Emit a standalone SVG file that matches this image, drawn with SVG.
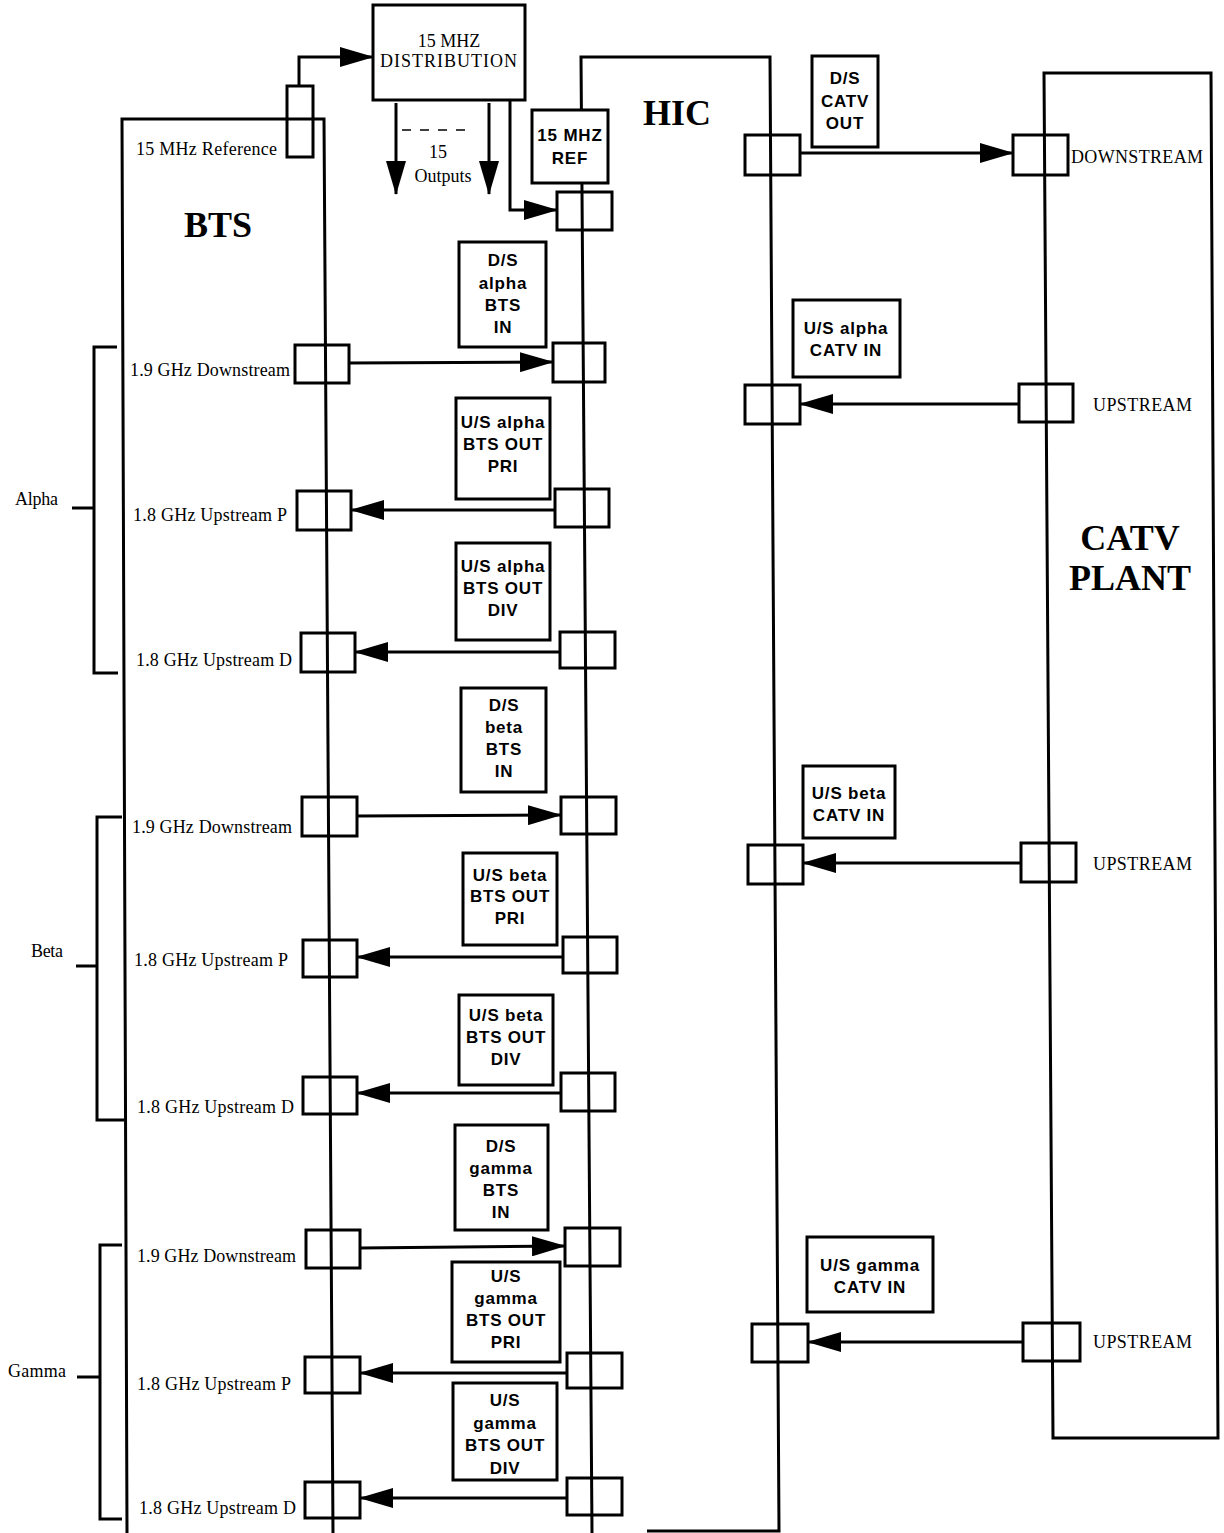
<svg xmlns="http://www.w3.org/2000/svg" width="1224" height="1533" viewBox="0 0 1224 1533">
<style>
.ln{stroke:#000;stroke-width:3;fill:none}
.port{stroke:#000;stroke-width:3;fill:none}
.lbl{stroke:#000;stroke-width:3;fill:#fff}
.bs{font-family:"Liberation Sans",Arial,sans-serif;font-weight:bold;font-size:17px;letter-spacing:0.8px;text-anchor:middle;fill:#000}
.sf{font-family:"Liberation Serif","Times New Roman",serif;font-size:18px;fill:#000}
.big{font-family:"Liberation Serif","Times New Roman",serif;font-weight:bold;font-size:36px;text-anchor:middle;fill:#000}
.arr{stroke:#000;stroke-width:3;fill:none;marker-end:url(#ah)}
.dash{stroke:#000;stroke-width:1.5;fill:none;stroke-dasharray:9,9}
</style>
<defs>
<marker id="ah" markerUnits="userSpaceOnUse" markerWidth="34" markerHeight="20" viewBox="0 0 34 20" refX="33" refY="10" orient="auto">
<path d="M0,0 L34,10 L0,20 Z" fill="#000"/>
</marker>
</defs>
<rect width="1224" height="1533" fill="#fff"/>

<g id="bts">
<path class="ln" d="M127,1533 L122,119 L324,119 L333,1533"/>
<text class="big" x="218" y="237">BTS</text>
<text class="sf" x="136" y="155" font-size="16" textLength="141" lengthAdjust="spacing">15 MHz Reference</text>
<text class="sf" x="130" y="376" textLength="160" lengthAdjust="spacing">1.9 GHz Downstream</text>
<text class="sf" x="133" y="521" textLength="154" lengthAdjust="spacing">1.8 GHz Upstream P</text>
<text class="sf" x="136" y="666" textLength="156" lengthAdjust="spacing">1.8 GHz Upstream D</text>
<text class="sf" x="132" y="833" textLength="160" lengthAdjust="spacing">1.9 GHz Downstream</text>
<text class="sf" x="134" y="966" textLength="154" lengthAdjust="spacing">1.8 GHz Upstream P</text>
<text class="sf" x="137" y="1113" textLength="157" lengthAdjust="spacing">1.8 GHz Upstream D</text>
<text class="sf" x="137" y="1262" textLength="159" lengthAdjust="spacing">1.9 GHz Downstream</text>
<text class="sf" x="137" y="1390" textLength="154" lengthAdjust="spacing">1.8 GHz Upstream P</text>
<text class="sf" x="139" y="1514" textLength="157" lengthAdjust="spacing">1.8 GHz Upstream D</text>
<rect class="port" x="287" y="86" width="26" height="71"/>
<rect class="port" x="295" y="345" width="54" height="38"/>
<rect class="port" x="297" y="491" width="54" height="39"/>
<rect class="port" x="301" y="633" width="54" height="39"/>
<rect class="port" x="302" y="797" width="55" height="39"/>
<rect class="port" x="303" y="940" width="54" height="37"/>
<rect class="port" x="303" y="1077" width="54" height="37"/>
<rect class="port" x="306" y="1230" width="54" height="38"/>
<rect class="port" x="305" y="1357" width="55" height="36"/>
<rect class="port" x="305" y="1482" width="55" height="36"/>
</g>

<g id="groups">
<path class="ln" d="M117,347 L94,347 L94,673 L118,673 M72,508 L94,508"/>
<text class="sf" x="15" y="505" font-size="17" textLength="43" lengthAdjust="spacing">Alpha</text>
<path class="ln" d="M122,817 L97,817 L97,1120 L124,1120 M76,966 L97,966"/>
<text class="sf" x="31" y="957" font-size="17" textLength="32" lengthAdjust="spacing">Beta</text>
<path class="ln" d="M122,1245 L100,1245 L100,1519 L122,1519 M77,1377 L100,1377"/>
<text class="sf" x="8" y="1377" font-size="17" textLength="58" lengthAdjust="spacing">Gamma</text>
</g>

<g id="distribution">
<rect class="lbl" x="373" y="5" width="152" height="95"/>
<text class="sf" x="449" y="47" font-size="16" text-anchor="middle">15 MHZ</text>
<text class="sf" x="449" y="67" font-size="16" text-anchor="middle" letter-spacing="1">DISTRIBUTION</text>
<text class="sf" x="438" y="158" font-size="15" text-anchor="middle">15</text>
<text class="sf" x="443" y="182" font-size="15" text-anchor="middle">Outputs</text>
</g>

<g id="hic">
<path class="ln" d="M592,1533 L581,57 L770,57 L779,1531 L647,1531"/>
<text class="big" x="677" y="125">HIC</text>
<rect class="lbl" x="532" y="110" width="76" height="73"/>
<text class="bs" x="570" y="141">15 MHZ</text>
<text class="bs" x="570" y="164">REF</text>
<rect class="port" x="557" y="192" width="55" height="38"/>
<rect class="port" x="553" y="343" width="52" height="39"/>
<rect class="port" x="555" y="489" width="54" height="38"/>
<rect class="port" x="560" y="632" width="55" height="36"/>
<rect class="port" x="561" y="797" width="55" height="37"/>
<rect class="port" x="563" y="937" width="54" height="36"/>
<rect class="port" x="561" y="1073" width="54" height="38"/>
<rect class="port" x="565" y="1228" width="55" height="38"/>
<rect class="port" x="567" y="1353" width="55" height="35"/>
<rect class="port" x="567" y="1478" width="55" height="37"/>
<rect class="port" x="745" y="135" width="55" height="40"/>
<rect class="port" x="745" y="385" width="55" height="39"/>
<rect class="port" x="748" y="845" width="55" height="39"/>
<rect class="port" x="752" y="1324" width="56" height="38"/>
</g>

<g id="catv">
<path class="ln" d="M1044,73 L1211,73 L1218,1438 L1053,1438 Z"/>
<text class="big" x="1130" y="550">CATV</text>
<text class="big" x="1130" y="590">PLANT</text>
<rect class="port" x="1013" y="135" width="55" height="40"/>
<rect class="port" x="1019" y="384" width="54" height="38"/>
<rect class="port" x="1021" y="843" width="55" height="39"/>
<rect class="port" x="1023" y="1323" width="57" height="38"/>
<text class="sf" x="1071" y="163" font-size="17" textLength="132" lengthAdjust="spacing">DOWNSTREAM</text>
<text class="sf" x="1093" y="411" font-size="17" textLength="99" lengthAdjust="spacing">UPSTREAM</text>
<text class="sf" x="1093" y="870" font-size="17" textLength="99" lengthAdjust="spacing">UPSTREAM</text>
<text class="sf" x="1093" y="1348" font-size="17" textLength="99" lengthAdjust="spacing">UPSTREAM</text>
</g>

<g id="labels">
<rect class="lbl" x="812" y="56" width="66" height="91"/>
<text class="bs" x="845" y="84">D/S</text><text class="bs" x="845" y="107">CATV</text><text class="bs" x="845" y="129">OUT</text>
<rect class="lbl" x="459" y="242" width="87" height="105"/>
<text class="bs" x="503" y="266">D/S</text><text class="bs" x="503" y="289">alpha</text><text class="bs" x="503" y="311">BTS</text><text class="bs" x="503" y="333">IN</text>
<rect class="lbl" x="456" y="398" width="94" height="101"/>
<text class="bs" x="503" y="428">U/S alpha</text><text class="bs" x="503" y="450">BTS OUT</text><text class="bs" x="503" y="472">PRI</text>
<rect class="lbl" x="456" y="543" width="94" height="97"/>
<text class="bs" x="503" y="572">U/S alpha</text><text class="bs" x="503" y="594">BTS OUT</text><text class="bs" x="503" y="616">DIV</text>
<rect class="lbl" x="793" y="300" width="107" height="77"/>
<text class="bs" x="846" y="334">U/S alpha</text><text class="bs" x="846" y="356">CATV IN</text>
<rect class="lbl" x="461" y="688" width="85" height="104"/>
<text class="bs" x="504" y="711">D/S</text><text class="bs" x="504" y="733">beta</text><text class="bs" x="504" y="755">BTS</text><text class="bs" x="504" y="777">IN</text>
<rect class="lbl" x="463" y="853" width="94" height="92"/>
<text class="bs" x="510" y="881">U/S beta</text><text class="bs" x="510" y="902">BTS OUT</text><text class="bs" x="510" y="924">PRI</text>
<rect class="lbl" x="803" y="766" width="92" height="72"/>
<text class="bs" x="849" y="799">U/S beta</text><text class="bs" x="849" y="821">CATV IN</text>
<rect class="lbl" x="459" y="995" width="94" height="90"/>
<text class="bs" x="506" y="1021">U/S beta</text><text class="bs" x="506" y="1043">BTS OUT</text><text class="bs" x="506" y="1065">DIV</text>
<rect class="lbl" x="455" y="1125" width="93" height="105"/>
<text class="bs" x="501" y="1152">D/S</text><text class="bs" x="501" y="1174">gamma</text><text class="bs" x="501" y="1196">BTS</text><text class="bs" x="501" y="1218">IN</text>
<rect class="lbl" x="452" y="1262" width="108" height="100"/>
<text class="bs" x="506" y="1282">U/S</text><text class="bs" x="506" y="1304">gamma</text><text class="bs" x="506" y="1326">BTS OUT</text><text class="bs" x="506" y="1348">PRI</text>
<rect class="lbl" x="453" y="1383" width="104" height="97"/>
<text class="bs" x="505" y="1406">U/S</text><text class="bs" x="505" y="1429">gamma</text><text class="bs" x="505" y="1451">BTS OUT</text><text class="bs" x="505" y="1474">DIV</text>
<rect class="lbl" x="807" y="1237" width="126" height="75"/>
<text class="bs" x="870" y="1271">U/S gamma</text><text class="bs" x="870" y="1293">CATV IN</text>
</g>

<g id="connectors">
<path class="arr" d="M299,86 L299,57 L373,57"/>
<path class="arr" d="M396,103 L396,194"/>
<path class="arr" d="M489,103 L489,194"/>
<path class="dash" d="M402,130 L468,130"/>
<path class="arr" d="M510,100 L510,210 L557,210"/>
<path class="arr" d="M349,363 L553,362"/>
<path class="arr" d="M555,510 L351,510"/>
<path class="arr" d="M560,652 L355,652"/>
<path class="arr" d="M357,816 L561,815"/>
<path class="arr" d="M563,957 L357,957"/>
<path class="arr" d="M561,1093 L357,1093"/>
<path class="arr" d="M360,1248 L565,1246"/>
<path class="arr" d="M567,1373 L360,1373"/>
<path class="arr" d="M567,1498 L360,1498"/>
<path class="arr" d="M800,153 L1013,153"/>
<path class="arr" d="M1019,404 L800,404"/>
<path class="arr" d="M1021,863 L803,863"/>
<path class="arr" d="M1023,1342 L808,1342"/>
</g>
</svg>
